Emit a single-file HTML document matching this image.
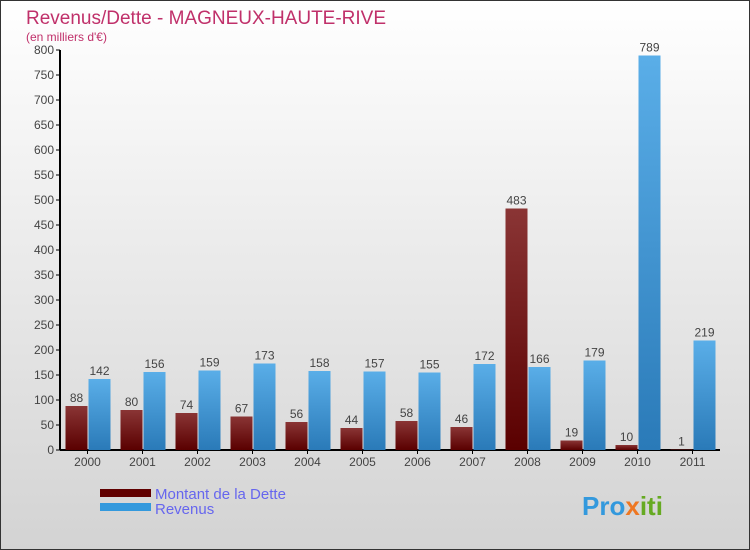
<!DOCTYPE html>
<html><head><meta charset="utf-8"><style>
body{margin:0}
#c{width:750px;height:550px;position:relative;overflow:hidden}
svg{font-family:"Liberation Sans",sans-serif}
</style></head><body>
<div id="c">
<svg id="s" width="750" height="550" xmlns="http://www.w3.org/2000/svg">
<defs>
<linearGradient id="bg" x1="0" y1="0" x2="0" y2="1"><stop offset="0" stop-color="#ffffff"/><stop offset="1" stop-color="#d3d3d3"/></linearGradient>
<linearGradient id="gd" x1="0" y1="0" x2="0" y2="1"><stop offset="0" stop-color="#8a3535"/><stop offset="1" stop-color="#5a0000"/></linearGradient>
<linearGradient id="gr" x1="0" y1="0" x2="0" y2="1"><stop offset="0" stop-color="#5aaee8"/><stop offset="1" stop-color="#2a7ab8"/></linearGradient>
</defs>
<rect x="0.5" y="0.5" width="749" height="549" fill="url(#bg)" stroke="#333"/>
<text x="26" y="24" font-size="19" fill="#c0306a">Revenus/Dette - MAGNEUX-HAUTE-RIVE</text>
<text x="26" y="41" font-size="12" fill="#c0306a">(en milliers d'€)</text>
<g id="axes"></g>
<g id="bars"></g>
<rect x="100" y="489" width="51" height="8" fill="#600000"/>
<rect x="100" y="503" width="51" height="8" fill="#3399dd"/>
<text x="155" y="499" font-size="15" fill="#6666ee">Montant de la Dette</text>
<text x="155" y="514" font-size="15" fill="#6666ee">Revenus</text>
<text x="582" y="515" font-size="26" font-weight="bold" fill="#3399dd">Pro<tspan fill="#ee7722">x</tspan><tspan fill="#66aa22">iti</tspan></text>
</svg></div>
<script>
const years=["2000","2001","2002","2003","2004","2005","2006","2007","2008","2009","2010","2011"];
const dette=[88,80,74,67,56,44,58,46,483,19,10,1];
const revenus=[142,156,159,173,158,157,155,172,166,179,789,219];
const yTicks=[0,50,100,150,200,250,300,350,400,450,500,550,600,650,700,750,800];
const NS="http://www.w3.org/2000/svg";
const x0=60,gw=55,yb=450,ymax=800,ph=400;
const y=v=>yb-v/ymax*ph;
function mk(t,a,p){const e=document.createElementNS(NS,t);for(const k in a)e.setAttribute(k,a[k]);p.appendChild(e);return e;}
const ax=document.getElementById('axes'),bg=document.getElementById('bars');
const ya=mk('line',{x1:x0,y1:yb,x2:x0,y2:y(800),stroke:'#000','stroke-width':2},ax);


const xa=mk('line',{x1:x0,y1:yb,x2:x0+gw*years.length,y2:yb,stroke:'#000','stroke-width':2},ax);


yTicks.forEach(v=>{
 mk('line',{x1:x0-4,y1:y(v),x2:x0,y2:y(v),stroke:'#000'},ax);
 const t=mk('text',{x:x0-6,y:y(v)+4,'font-size':12,fill:'#444','text-anchor':'end'},ax);t.textContent=v;
 
 
});
years.forEach((yr,i)=>{
 const c=x0+gw*(i+0.5);
 mk('line',{x1:c,y1:yb,x2:c,y2:yb+4,stroke:'#000'},ax);
 const t=mk('text',{x:c,y:yb+16,'font-size':12,fill:'#444','text-anchor':'middle'},ax);t.textContent=yr;
 
 
 const b1=mk('rect',{x:c-22,y:y(dette[i]),width:22,height:yb-y(dette[i]),fill:'url(#gd)'},bg);
 
 
 const b2=mk('rect',{x:c+1,y:y(revenus[i]),width:22,height:yb-y(revenus[i]),fill:'url(#gr)'},bg);
 
 
 const l1=mk('text',{x:c-11,y:y(dette[i])-4,'font-size':12,fill:'#444','text-anchor':'middle'},bg);l1.textContent=dette[i];
 
 
 const l2=mk('text',{x:c+12,y:y(revenus[i])-4,'font-size':12,fill:'#444','text-anchor':'middle'},bg);l2.textContent=revenus[i];
 
 
});
</script>
</body></html>
